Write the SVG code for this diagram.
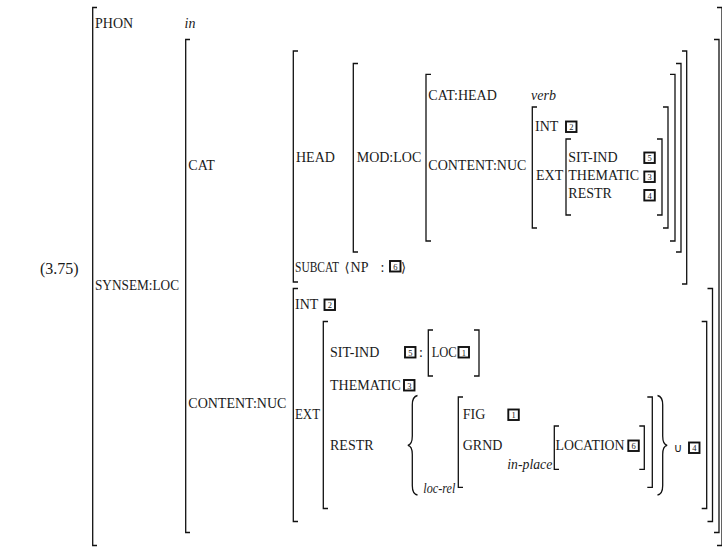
<svg xmlns="http://www.w3.org/2000/svg" width="722" height="547" viewBox="0 0 722 547">
<style>
text{font-family:"Liberation Serif","Times New Roman",serif;font-size:14px;fill:#1a1a1a}
.it{font-style:italic}
.br{fill:none;stroke:#111;stroke-width:1.3}
.bx{fill:#fff;stroke:#111;stroke-width:1.9}
.bn{font-size:8.5px;text-anchor:middle}
.num{font-size:16px}
.sym{font-family:"DejaVu Sans","DejaVu Serif",sans-serif;font-size:13px}
</style>
<defs>
<g id="tag"><rect class="bx" x="0" y="0" width="10.5" height="10.5"/></g>
</defs>
<rect width="722" height="547" fill="#fff"/>
<text class="num" x="40" y="274">(3.75)</text>

<g id="connectors">
<!-- outer -->
<path class="br" d="M97,7.5H92.7V545.5H97"/>
<path class="br" d="M717,7.5H722V545.5H717"/>
<!-- SYNSEM:LOC -->
<path class="br" d="M190,39.5H185.7V532.5H190"/>
<path class="br" d="M714,39.5H719V532.5H714"/>
<!-- CAT -->
<path class="br" d="M298,51H293.3V282H298"/>
<path class="br" d="M682,51H686.7V284H682"/>
<!-- HEAD value -->
<path class="br" d="M358,63.5H353.3V252H358"/>
<path class="br" d="M676,63.5H681V252H676"/>
<!-- MOD:LOC value -->
<path class="br" d="M431,74.3H426V241H431"/>
<path class="br" d="M670,74.3H675V241H670"/>
<!-- CONTENT:NUC (upper) value -->
<path class="br" d="M537,107H532.3V228H537"/>
<path class="br" d="M663,107H668V228H663"/>
<!-- EXT (upper) value -->
<path class="br" d="M571,139H566V215H571"/>
<path class="br" d="M657,139H662V215H657"/>
<!-- CONTENT:NUC (lower) -->
<path class="br" d="M298,288.5H293.3V521.5H298"/>
<path class="br" d="M707.5,288.5H712.5V521.5H707.5"/>
<!-- EXT (lower) -->
<path class="br" d="M328,321.5H323.3V508.5H328"/>
<path class="br" d="M701.7,321.5H706.7V508.5H701.7"/>
<!-- LOC -->
<path class="br" d="M433,330H428.3V376H433"/>
<path class="br" d="M474,330H479V376H474"/>
<!-- loc-rel -->
<path class="br" d="M463,397H458.3V487.3H463"/>
<path class="br" d="M647.3,397H652.3V487.3H647.3"/>
<!-- in-place -->
<path class="br" d="M559,426H554.3V469.3H559"/>
<path class="br" d="M639.3,426H644.3V469.3H639.3"/>
<!-- braces -->
<path class="br" d="M417.5,395.5Q412.3,396.5 412.3,405V436Q412.3,444.5 407.8,445.3Q412.3,446 412.3,454.5V485.5Q412.3,494 417.5,495"/>
<path class="br" d="M657.5,395.5Q662.7,396.5 662.7,405V436Q662.7,444.5 667.2,445.3Q662.7,446 662.7,454.5V485.5Q662.7,494 657.5,495"/>
</g>

<g id="phon">
<text x="95" y="28">PHON</text>
<text class="it" x="184.5" y="28">in</text>
</g>

<g id="synsem-loc">
<text x="95" y="290" textLength="84" lengthAdjust="spacingAndGlyphs">SYNSEM:LOC</text>
</g>

<g id="cat">
<text x="188.3" y="170">CAT</text>
<text x="296" y="162">HEAD</text>
<text x="356.7" y="162">MOD:LOC</text>
<text x="428.3" y="100">CAT:HEAD</text>
<text class="it" x="531" y="100">verb</text>
<text x="428.3" y="170">CONTENT:NUC</text>
<text x="535" y="131">INT</text>
<use href="#tag" x="566" y="121.5"/><text class="bn" x="571.25" y="130">2</text>
<text x="536" y="180">EXT</text>
<text x="568.3" y="162">SIT-IND</text>
<use href="#tag" x="644.3" y="152.5"/><text class="bn" x="649.55" y="161">5</text>
<text x="568.3" y="180">THEMATIC</text>
<use href="#tag" x="644.3" y="171.5"/><text class="bn" x="649.55" y="180">3</text>
<text x="568.3" y="198">RESTR</text>
<use href="#tag" x="644.3" y="190"/><text class="bn" x="649.55" y="198.5">4</text>
<text x="295" y="271.5" textLength="44" lengthAdjust="spacingAndGlyphs">SUBCAT</text>
<text x="344.5" y="271.5"><tspan class="sym">⟨</tspan><tspan dx="1">NP</tspan></text>
<text x="380.5" y="271.5">:</text>
<use href="#tag" x="390" y="261"/><text class="bn" x="395.25" y="269.5">6</text>
<text class="sym" x="401" y="272">⟩</text>
</g>

<g id="content-nuc">
<text x="188.3" y="407.5">CONTENT:NUC</text>
<text x="295" y="309">INT</text>
<use href="#tag" x="324.5" y="299.5"/><text class="bn" x="329.75" y="308">2</text>
<text x="295" y="419" textLength="25" lengthAdjust="spacingAndGlyphs">EXT</text>
<text x="330" y="357">SIT-IND</text>
<use href="#tag" x="405" y="347"/><text class="bn" x="410.25" y="355.5">5</text>
<text x="419" y="357">:</text>
<text x="431.7" y="357" textLength="25" lengthAdjust="spacingAndGlyphs">LOC</text>
<use href="#tag" x="458.5" y="347"/><text class="bn" x="463.75" y="355.5">1</text>
<text x="330" y="390">THEMATIC</text>
<use href="#tag" x="404" y="380"/><text class="bn" x="409.25" y="388.5">3</text>
<text x="330" y="450">RESTR</text>
<text class="it" x="423.3" y="493" textLength="32" lengthAdjust="spacingAndGlyphs">loc-rel</text>
<text x="462.7" y="419">FIG</text>
<use href="#tag" x="508.3" y="409.5"/><text class="bn" x="513.55" y="418">1</text>
<text x="462.7" y="450">GRND</text>
<text class="it" x="507.3" y="469" textLength="45" lengthAdjust="spacingAndGlyphs">in-place</text>
<text x="555.5" y="450" textLength="69" lengthAdjust="spacingAndGlyphs">LOCATION</text>
<use href="#tag" x="628.3" y="440.5"/><text class="bn" x="633.55" y="449">6</text>
<text class="sym" x="673.5" y="452" style="font-size:12px">∪</text>
<use href="#tag" x="689" y="442.5"/><text class="bn" x="694.25" y="451">4</text>
</g>
</svg>
